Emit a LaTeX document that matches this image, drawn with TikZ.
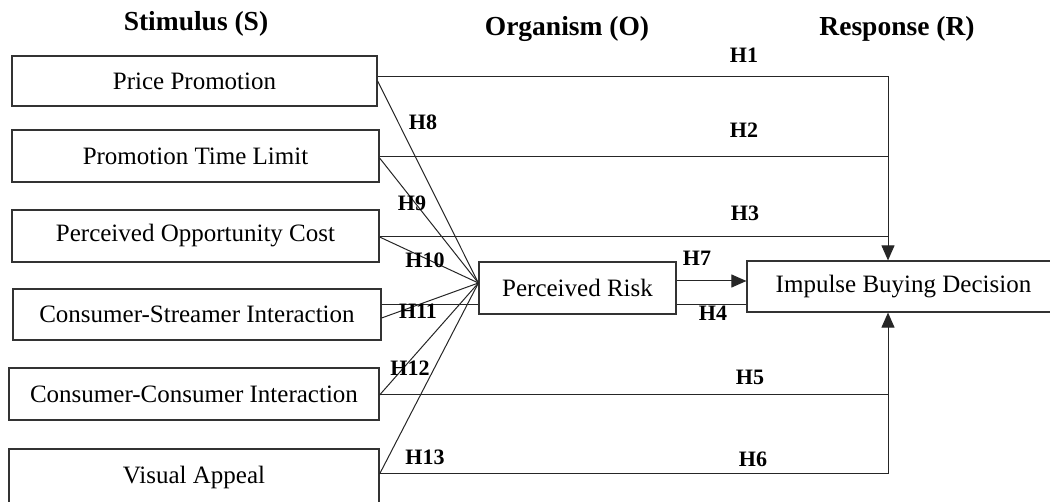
\documentclass[tikz,border=0pt]{standalone}
\usepackage{fontspec}
\setmainfont{Liberation Serif}
\usetikzlibrary{arrows.meta}
\tikzset{
 box/.style={draw=black!80, line width=1.2pt, rectangle, inner sep=0pt, font=\fontsize{25}{30}\selectfont},
 lbl/.style={font=\bfseries\fontsize{22}{26}\selectfont, inner sep=0pt},
 hdr/.style={font=\bfseries\fontsize{27.5}{32}\selectfont, inner sep=0pt},
 conn/.style={draw=black!85, line width=1pt},
 arr/.style={conn, -{Triangle[length=15pt,width=13pt]}},
}
\begin{document}
\begin{tikzpicture}[x=1pt,y=-1pt]
\useasboundingbox (0,0) rectangle (1050,502);
% headers
\node[hdr] (hs) at (196,24) {Stimulus (S)};
\node[hdr] (ho) at (567,29) {Organism (O)};
\node[hdr] (hr) at (897,29) {Response (R)};
% stimulus boxes
\node[box, minimum width=365pt, minimum height=50pt] (pp) at (194.5,81) {Price Promotion};
\node[box, minimum width=367pt, minimum height=52pt] (ptl) at (195.5,156) {Promotion Time Limit};
\node[box, minimum width=367pt, minimum height=52pt] (poc) at (195.5,236) {Perceived Opportunity Cost};
\node[box, minimum width=368pt, minimum height=51pt] (csi) at (197,314.5) {Consumer-Streamer Interaction};
\node[box, minimum width=370pt, minimum height=52pt] (cci) at (194,394) {Consumer-Consumer Interaction};
\node[box, minimum width=370pt, minimum height=60pt] (va) at (194,479) {\raisebox{8pt}{Visual Appeal}};
% organism and response
\node[box, minimum width=197pt, minimum height=52pt] (pr) at (577.5,288) {Perceived Risk};
\node[box, minimum width=313pt, minimum height=51pt] (ibd) at (903.5,286.5) {\raisebox{-1.5pt}{Impulse Buying Decision}};
% helper coordinates
\coordinate (jx) at (888,0);
\coordinate (conv) at ([yshift=5pt]pr.west);
% direct paths
\draw[arr] ([yshift=4pt]pp.east) -| ([xshift=-15.5pt]ibd.north);
\draw[conn] ([yshift=-1pt]ptl.east) -- ([yshift=-1pt]ptl.east -| jx);
\draw[conn] ([yshift=-1pt]poc.east) -- ([yshift=-1pt]poc.east -| jx);
\draw[conn] ([yshift=-1pt]cci.east) -- ([yshift=-1pt]cci.east -| jx);
\draw[arr] ([yshift=5pt]va.east) -| ([xshift=-15.5pt]ibd.south);
% H4 passing behind perceived risk
\draw[conn] ([yshift=9.5pt]csi.east) -- ([yshift=9.5pt]csi.east -| pr.west);
\draw[conn] ([yshift=-17pt]pr.east) -- ([yshift=-17pt]pr.east -| ibd.west);
% H7
\draw[arr] ([yshift=7pt]pr.east) -- ([yshift=7pt]pr.east -| ibd.west);
% converging paths
\draw[conn] (pp.east) -- (conv);
\draw[conn] ([yshift=-2pt]ptl.east) -- (conv);
\draw[conn] ([yshift=-1pt]poc.east) -- (conv);
\draw[conn] ([yshift=-3.5pt]csi.east) -- (conv);
\draw[conn] ([yshift=-1pt]cci.east) -- (conv);
\draw[conn] ([yshift=5pt]va.east) -- (conv);
% labels
\node[lbl] (h1) at (744,55) {H1};
\node[lbl] (h2) at (744,130) {H2};
\node[lbl] (h3) at (745,213) {H3};
\node[lbl] (h8) at (423,122) {H8};
\node[lbl] (h9) at (412,203) {H9};
\node[lbl] (h10) at (425,260) {H10};
\node[lbl] (h7) at (697,258) {H7};
\node[lbl] (h11) at (418,311) {H11};
\node[lbl] (h4) at (713,313) {H4};
\node[lbl] (h12) at (410,368) {H12};
\node[lbl] (h5) at (750,377) {H5};
\node[lbl] (h13) at (425,457) {H13};
\node[lbl] (h6) at (753,459) {H6};
\end{tikzpicture}
\end{document}
